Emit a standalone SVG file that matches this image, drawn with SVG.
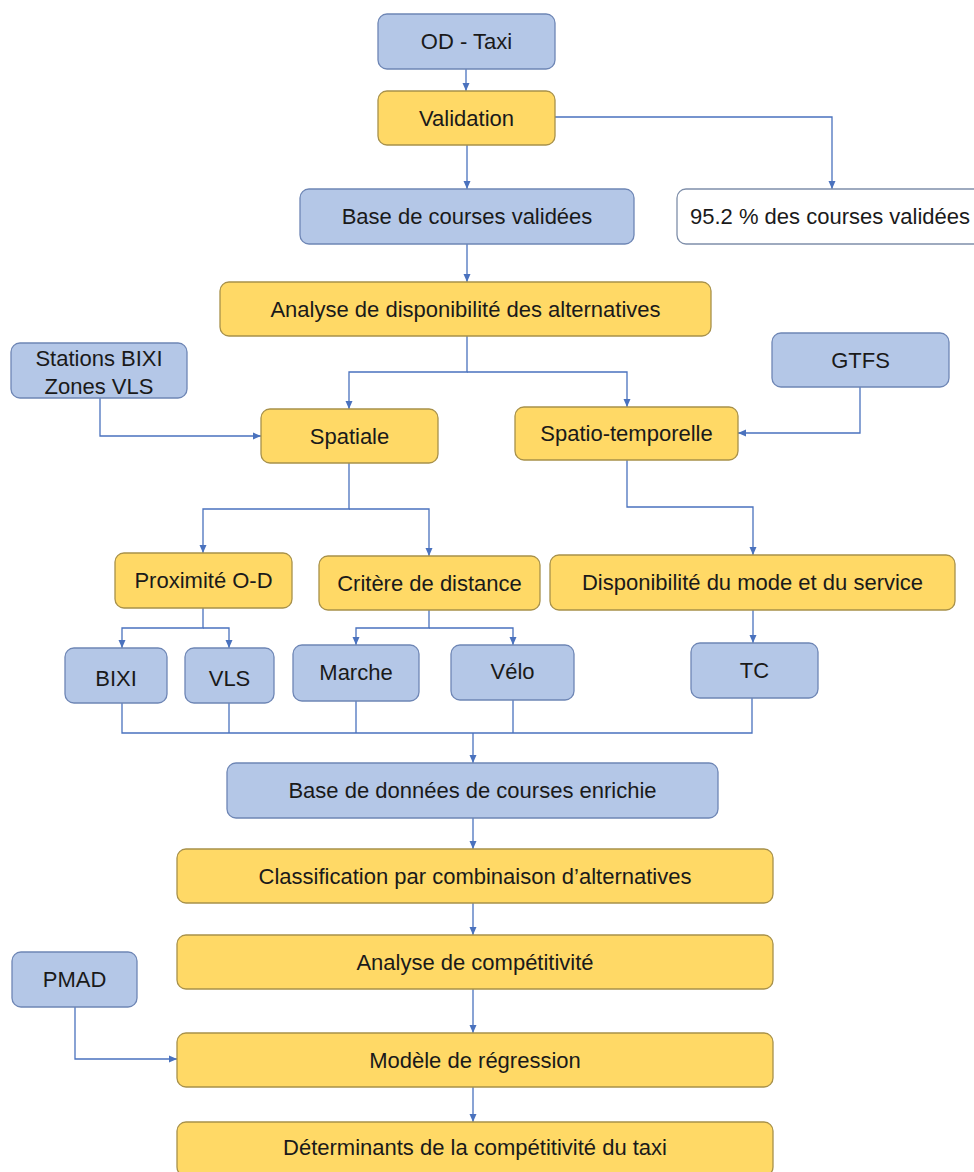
<svg xmlns="http://www.w3.org/2000/svg" width="974" height="1172" viewBox="0 0 974 1172">
<style>
  .blue rect { fill: #B4C7E7; stroke: #6E86B5; stroke-width: 1.3; }
  .yellow rect { fill: #FFD966; stroke: #A8914A; stroke-width: 1.3; }
  .white rect { fill: #FFFFFF; stroke: #7F8FAA; stroke-width: 1.3; }
  text { font-family: "Liberation Sans", Arial, sans-serif; font-size: 22px; fill: #1A1A1A; text-anchor: middle; dominant-baseline: central; }
  .conn path { fill: none; stroke: #4A72BE; stroke-width: 1.3; }
</style>
<defs>
  <marker id="arr" markerUnits="userSpaceOnUse" markerWidth="10" markerHeight="10" viewBox="0 0 10 10" refX="9" refY="5" orient="auto">
    <path d="M1,1.5 L9,5 L1,8.5 Z" fill="#4A72BE"/>
  </marker>
</defs>
<rect width="974" height="1172" fill="#FFFFFF"/>

<g class="conn">
  <path d="M466,69 V91" marker-end="url(#arr)"/>
  <path d="M467,145 V189" marker-end="url(#arr)"/>
  <path d="M555,117 H832 V189" marker-end="url(#arr)"/>
  <path d="M467,244 V282" marker-end="url(#arr)"/>
  <path d="M467,336 V372 H349 V409" marker-end="url(#arr)"/>
  <path d="M467,372 H627 V407" marker-end="url(#arr)"/>
  <path d="M100,398 V436 H261" marker-end="url(#arr)"/>
  <path d="M860,387 V433 H738" marker-end="url(#arr)"/>
  <path d="M349,463 V509 H203 V553" marker-end="url(#arr)"/>
  <path d="M349,509 H429 V556" marker-end="url(#arr)"/>
  <path d="M627,460 V507 H753 V555" marker-end="url(#arr)"/>
  <path d="M203,608 V628 H122 V648" marker-end="url(#arr)"/>
  <path d="M203,628 H229 V648" marker-end="url(#arr)"/>
  <path d="M429,610 V628 H356 V645" marker-end="url(#arr)"/>
  <path d="M429,628 H513 V645" marker-end="url(#arr)"/>
  <path d="M753,610 V643" marker-end="url(#arr)"/>
  <path d="M122,703 V733 H752 V698"/>
  <path d="M229,703 V733"/>
  <path d="M356,701 V733"/>
  <path d="M513,700 V733"/>
  <path d="M473,733 V763" marker-end="url(#arr)"/>
  <path d="M473,818 V849" marker-end="url(#arr)"/>
  <path d="M473,903 V935" marker-end="url(#arr)"/>
  <path d="M473,989 V1033" marker-end="url(#arr)"/>
  <path d="M75,1007 V1059 H177" marker-end="url(#arr)"/>
  <path d="M473,1087 V1122" marker-end="url(#arr)"/>
</g>

<g id="od-taxi" class="blue"><rect x="378" y="14" width="177" height="55" rx="9"/><text x="466.5" y="41.5">OD - Taxi</text></g>
<g id="validation" class="yellow"><rect x="378" y="91" width="177" height="54" rx="9"/><text x="466.5" y="118">Validation</text></g>
<g id="base-courses" class="blue"><rect x="300" y="189" width="334" height="55" rx="9"/><text x="467" y="216.5">Base de courses validées</text></g>
<g id="pct" class="white"><rect x="677" y="189" width="310" height="55" rx="9"/><text x="690" y="216.5" style="text-anchor:start">95.2 % des courses validées</text></g>
<g id="analyse-dispo" class="yellow"><rect x="220" y="282" width="491" height="54" rx="9"/><text x="465.5" y="309">Analyse de disponibilité des alternatives</text></g>
<g id="stations" class="blue"><rect x="11" y="343" width="176" height="55" rx="9"/><text x="99" y="358">Stations BIXI</text><text x="99" y="386">Zones VLS</text></g>
<g id="gtfs" class="blue"><rect x="772" y="333" width="177" height="54" rx="9"/><text x="860.5" y="360">GTFS</text></g>
<g id="spatiale" class="yellow"><rect x="261" y="409" width="177" height="54" rx="9"/><text x="349.5" y="436">Spatiale</text></g>
<g id="spatio-temp" class="yellow"><rect x="515" y="407" width="223" height="53" rx="9"/><text x="626.5" y="433.5">Spatio-temporelle</text></g>
<g id="proximite" class="yellow"><rect x="115" y="553" width="177" height="55" rx="9"/><text x="203.5" y="580">Proximité O-D</text></g>
<g id="critere" class="yellow"><rect x="319" y="556" width="221" height="54" rx="9"/><text x="429.5" y="583">Critère de distance</text></g>
<g id="dispo-mode" class="yellow"><rect x="550" y="555" width="405" height="55" rx="9"/><text x="752.5" y="582.5">Disponibilité du mode et du service</text></g>
<g id="bixi" class="blue"><rect x="65" y="648" width="102" height="55" rx="9"/><text x="116" y="678">BIXI</text></g>
<g id="vls" class="blue"><rect x="185" y="648" width="89" height="55" rx="9"/><text x="229.5" y="678">VLS</text></g>
<g id="marche" class="blue"><rect x="293" y="645" width="126" height="56" rx="9"/><text x="356" y="672">Marche</text></g>
<g id="velo" class="blue"><rect x="451" y="645" width="123" height="55" rx="9"/><text x="512.5" y="671">Vélo</text></g>
<g id="tc" class="blue"><rect x="691" y="643" width="127" height="55" rx="9"/><text x="754.5" y="670">TC</text></g>
<g id="base-enrichie" class="blue"><rect x="227" y="763" width="491" height="55" rx="9"/><text x="472.5" y="790.5">Base de données de courses enrichie</text></g>
<g id="classification" class="yellow"><rect x="177" y="849" width="596" height="54" rx="9"/><text x="475" y="876">Classification par combinaison d’alternatives</text></g>
<g id="analyse-comp" class="yellow"><rect x="177" y="935" width="596" height="54" rx="9"/><text x="475" y="962">Analyse de compétitivité</text></g>
<g id="pmad" class="blue"><rect x="12" y="952" width="125" height="55" rx="9"/><text x="74.5" y="979.5">PMAD</text></g>
<g id="modele" class="yellow"><rect x="177" y="1033" width="596" height="54" rx="9"/><text x="475" y="1060">Modèle de régression</text></g>
<g id="determinants" class="yellow"><rect x="177" y="1122" width="596" height="54" rx="9"/><text x="475" y="1147">Déterminants de la compétitivité du taxi</text></g>
</svg>
